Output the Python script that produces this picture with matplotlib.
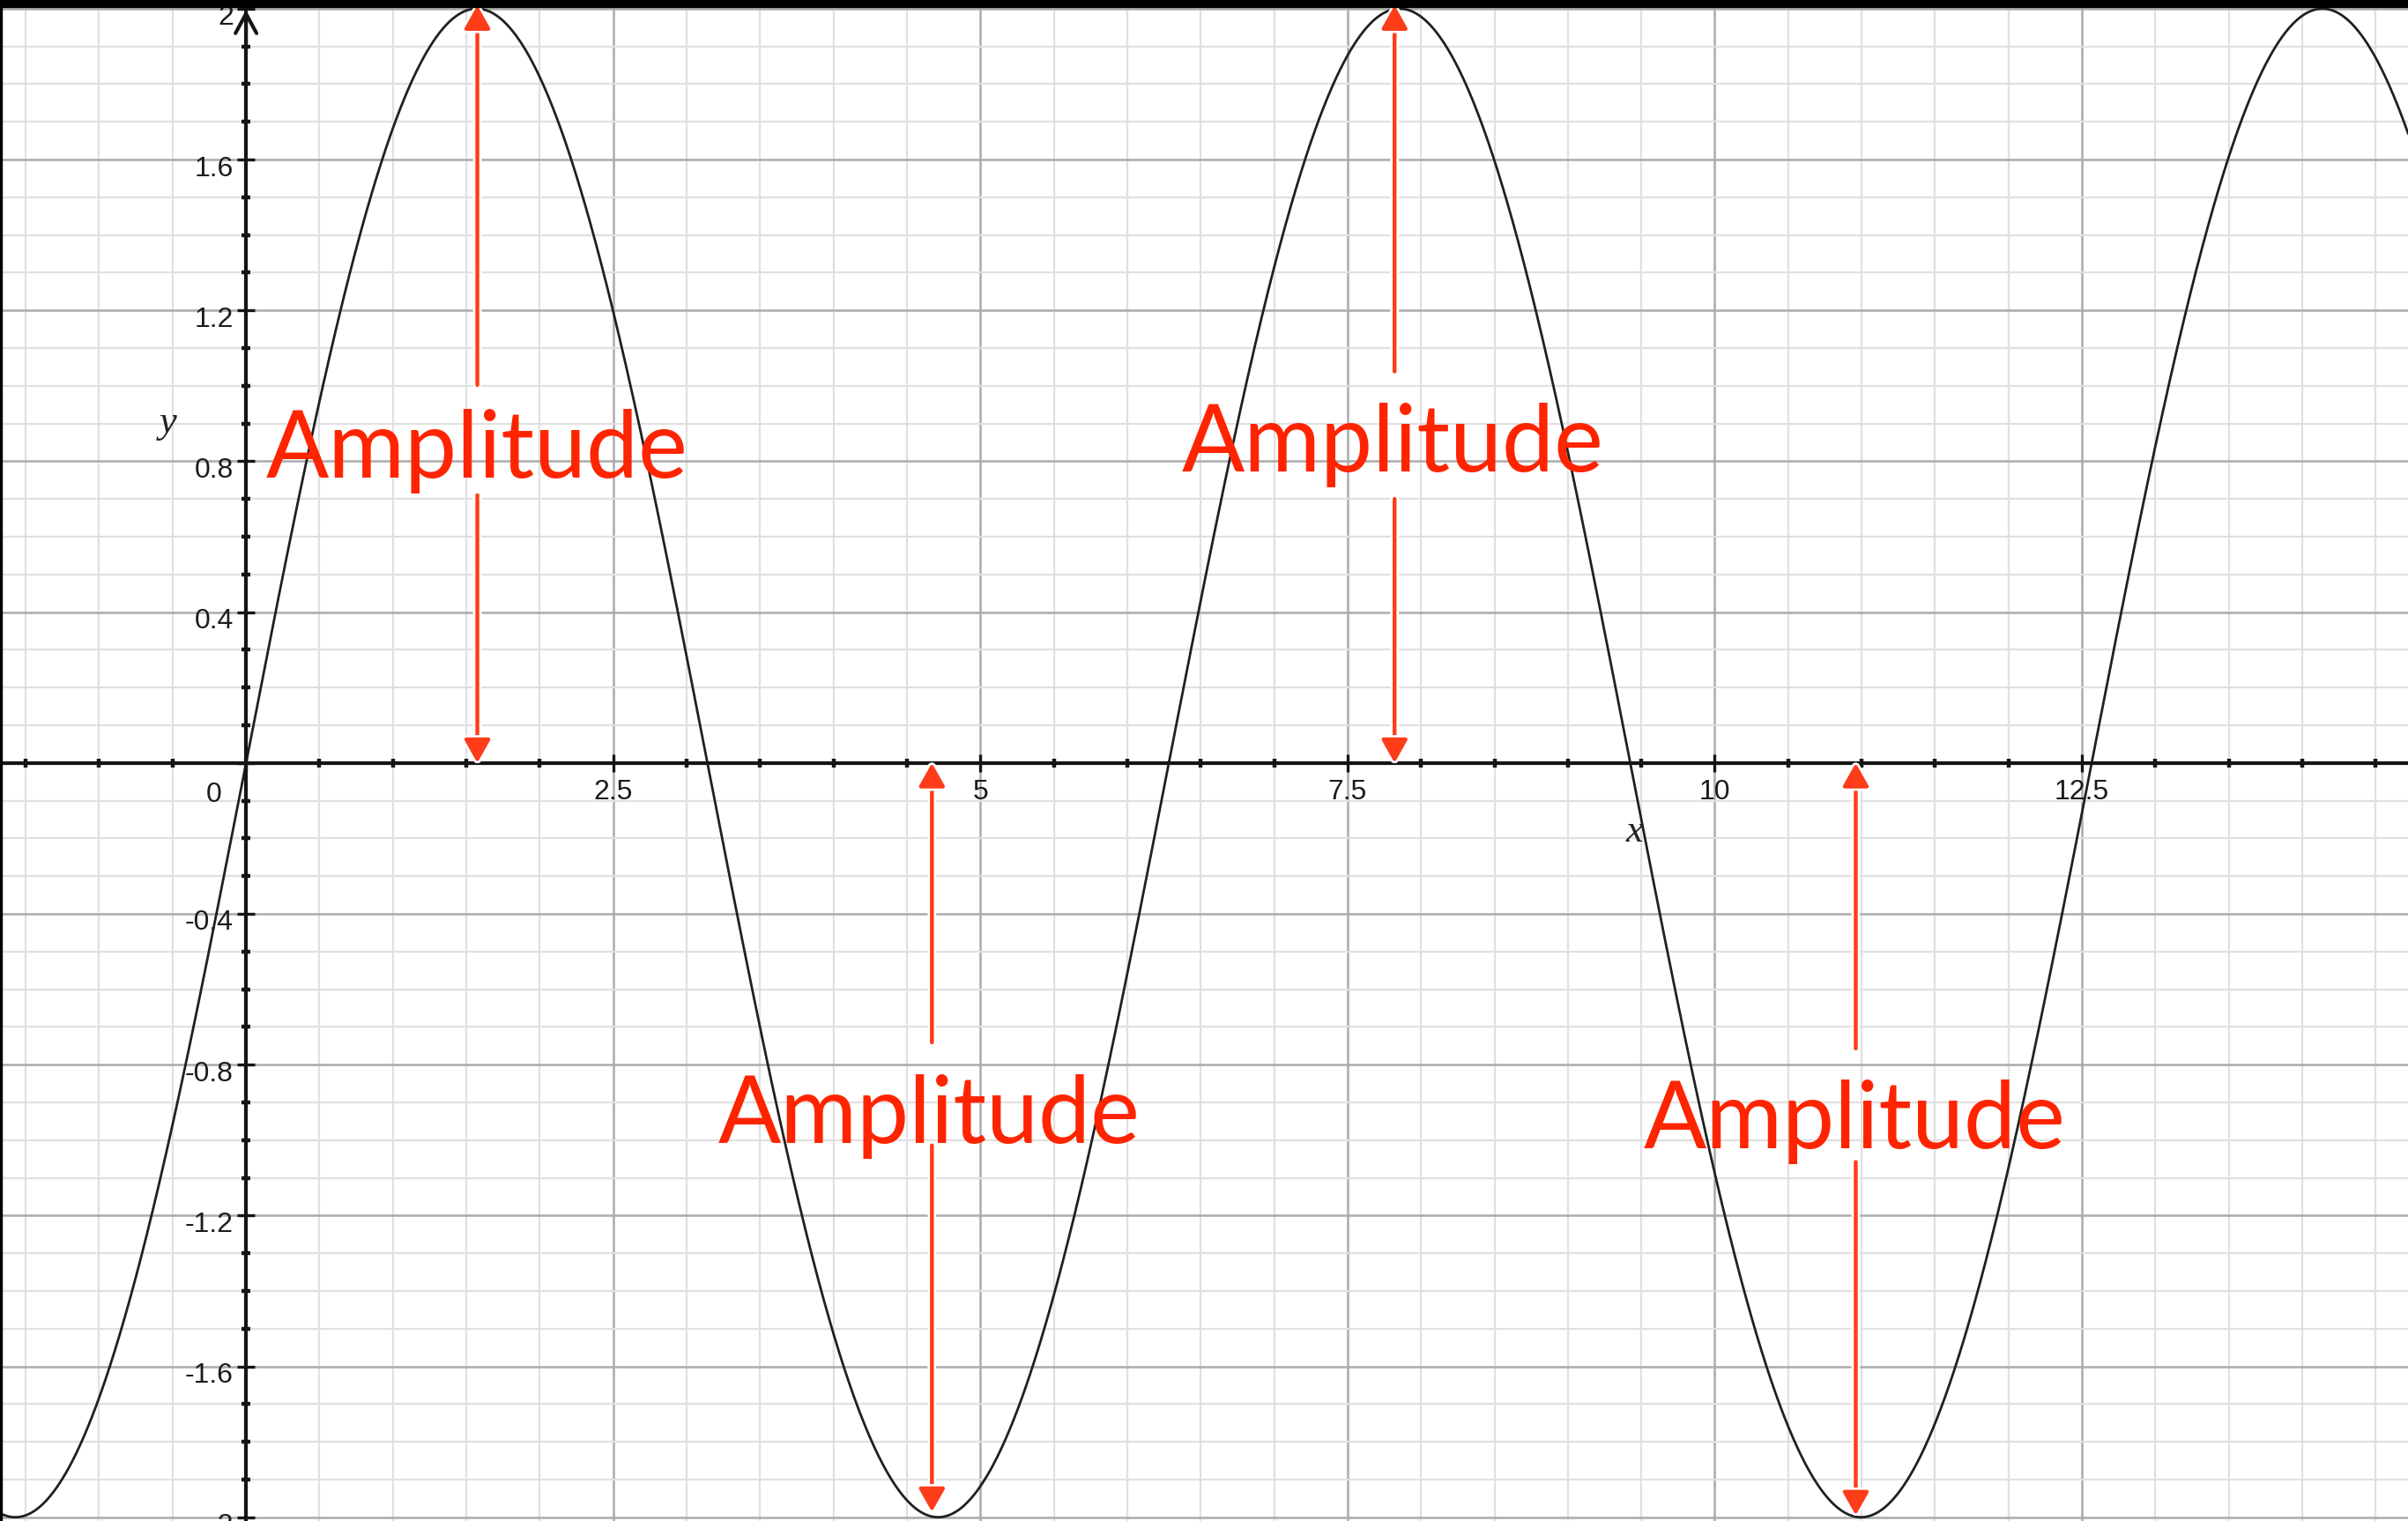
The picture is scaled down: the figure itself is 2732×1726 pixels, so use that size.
"""Graph of y = 2 sin(x) with the amplitude marked by red arrows (Grapher style)."""

import numpy as np
import matplotlib

matplotlib.use("Agg")
import matplotlib.pyplot as plt
import matplotlib.patheffects as pe
from matplotlib.patches import Rectangle
from matplotlib.ticker import FixedLocator, FixedFormatter, MultipleLocator
from matplotlib.transforms import ScaledTranslation

W_PX, H_PX, DPI = 2732, 1726, 100

# ── data ─────────────────────────────────────────────────────────────────────
# plotted function: y = AMPLITUDE * sin(x)
AMPLITUDE = 2.0
X_RANGE = (-1.675, 14.72)
Y_RANGE = (-2.010, 2.023)

X_MAJOR = [0, 2.5, 5, 7.5, 10, 12.5]
X_LABELS = ["", "2.5", "5", "7.5", "10", "12.5"]
Y_MAJOR = [-2, -1.6, -1.2, -0.8, -0.4, 0, 0.4, 0.8, 1.2, 1.6, 2]
Y_LABELS = ["-2", "-1.6", "-1.2", "-0.8", "-0.4", "", "0.4", "0.8", "1.2", "1.6", "2"]
X_MINOR_STEP = 0.5
Y_MINOR_STEP = 0.1

# amplitude markers: arrow x, arrow end, gap left for the word, word position
ARROW_X = [1.575, 7.82, 4.67, 10.96]
ARROW_END = [2.009, 2.009, -1.986, -1.995]
GAP_NEAR = [0.710, 0.700, -0.741, -0.757]  # gap edge nearer the x-axis
GAP_FAR = [1.002, 1.038, -1.014, -1.058]
TEXT_X = [1.573, 7.81, 4.652, 10.95]
TEXT_Y = [0.757, 0.773, -1.007, -1.021]  # baselines
TEXT = "Amplitude"

TEXT_RED = "#ff2400"
ARROW_RED = "#ff3c1a"
AXIS_COLOR = "#151515"

# ── figure ───────────────────────────────────────────────────────────────────
fig = plt.figure(figsize=(W_PX / DPI, H_PX / DPI), dpi=DPI)
ax = fig.add_axes([0, 0, 1, 1])
ax.set_xlim(*X_RANGE)
ax.set_ylim(*Y_RANGE)

# grid
ax.xaxis.set_major_locator(FixedLocator(X_MAJOR))
ax.yaxis.set_major_locator(FixedLocator(Y_MAJOR))
ax.xaxis.set_minor_locator(MultipleLocator(X_MINOR_STEP))
ax.yaxis.set_minor_locator(MultipleLocator(Y_MINOR_STEP))
ax.xaxis.set_major_formatter(FixedFormatter(X_LABELS))
ax.yaxis.set_major_formatter(FixedFormatter(Y_LABELS))
ax.set_axisbelow(True)
ax.grid(which="major", color="#ababab", linewidth=1.8)
ax.grid(which="minor", color="#e0e0e0", linewidth=1.6)

# axes through the origin
for side in ("top", "right"):
    ax.spines[side].set_visible(False)
for side in ("left", "bottom"):
    ax.spines[side].set_position(("data", 0))
    ax.spines[side].set_linewidth(3)
    ax.spines[side].set_color(AXIS_COLOR)
    ax.spines[side].set_zorder(2.6)

ax.tick_params(which="major", direction="inout", length=14.4, width=2.4,
               color=AXIS_COLOR, labelsize=23, labelcolor="#1c1c1c")
ax.tick_params(which="minor", direction="inout", length=7, width=3.2,
               color=AXIS_COLOR)
ax.tick_params(axis="x", which="major", pad=6)
ax.tick_params(axis="y", which="major", pad=3)
for lab in ax.get_xticklabels() + ax.get_yticklabels():
    lab.set_fontfamily("Liberation Sans")
for lab in ax.get_yticklabels():
    lab.set_transform(lab.get_transform()
                      + ScaledTranslation(0, -7 / DPI, fig.dpi_scale_trans))

ax.annotate("0", xy=(0, 0), xytext=(-36 * 72 / DPI, -36 * 72 / DPI),
            textcoords="offset points", ha="center", va="center",
            fontsize=23, family="Liberation Sans", color="#1c1c1c")

# arrow head on the y-axis
ax.annotate("", xy=(0, 1.997), xytext=(0, 1.9),
            arrowprops=dict(arrowstyle="->,head_length=0.8,head_width=0.43",
                            lw=3, color=AXIS_COLOR, mutation_scale=20,
                            shrinkA=0, shrinkB=0), zorder=2.7)

# axis names
ax.text(-0.534, 0.876, "y", fontsize=32, style="italic",
        family="Liberation Serif", ha="center", va="baseline", color="#222")
ax.text(9.454, -0.208, "x", fontsize=32, style="italic",
        family="Liberation Serif", ha="center", va="baseline", color="#222")

# curve
xs = np.linspace(X_RANGE[0], X_RANGE[1], 3000)
ax.plot(xs, AMPLITUDE * np.sin(xs), color="#202020", linewidth=2.0, zorder=2)

# amplitude arrows and labels
halo = [pe.Stroke(linewidth=7, foreground="white"), pe.Normal()]
arrow_style = dict(arrowstyle="-|>,head_length=0.8,head_width=0.45",
                   lw=3.2, color=ARROW_RED, mutation_scale=20,
                   shrinkA=0, shrinkB=0)
for x, end, g_near, g_far, tx, ty in zip(ARROW_X, ARROW_END, GAP_NEAR,
                                         GAP_FAR, TEXT_X, TEXT_Y):
    a1 = ax.annotate("", xy=(x, 0), xytext=(x, g_near),
                     arrowprops=arrow_style, zorder=4)
    a2 = ax.annotate("", xy=(x, end), xytext=(x, g_far),
                     arrowprops=arrow_style, zorder=4)
    for a in (a1, a2):
        a.arrow_patch.set_path_effects(halo)
    ax.text(tx, ty, TEXT, fontsize=76, family="Lato", color=TEXT_RED,
            ha="center", va="baseline", zorder=5)

# black frame strips of the screenshot
fig.patches.append(Rectangle((0, 1 - 8 / H_PX), 1, 8 / H_PX,
                             transform=fig.transFigure, color="black",
                             zorder=10))
fig.patches.append(Rectangle((0, 0), 2 / W_PX, 1, transform=fig.transFigure,
                             color="black", zorder=10))

fig.savefig("out.png", dpi=DPI)
